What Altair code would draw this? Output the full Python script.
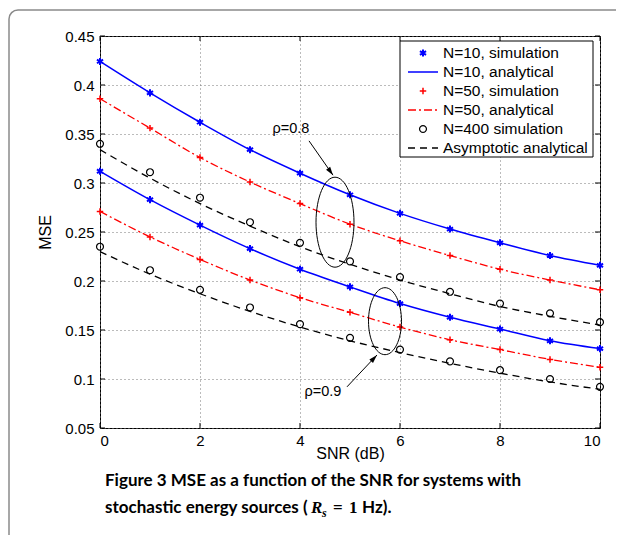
import math
import altair as alt
import pandas as pd

# ---------------- data ----------------
snr = [0, 1, 2, 3, 4, 5, 6, 7, 8, 9, 10]
n10_r08 = [0.424, 0.392, 0.362, 0.334, 0.310, 0.288, 0.269, 0.253, 0.239, 0.226, 0.216]
n50_r08 = [0.386, 0.356, 0.326, 0.301, 0.279, 0.258, 0.241, 0.226, 0.212, 0.201, 0.191]
n400_r08 = [0.340, 0.311, 0.285, 0.260, 0.239, 0.220, 0.204, 0.189, 0.177, 0.167, 0.158]
asym_r08 = [0.334, 0.305, 0.279, 0.256, 0.235, 0.217, 0.201, 0.187, 0.174, 0.164, 0.155]
n10_r09 = [0.312, 0.283, 0.257, 0.233, 0.212, 0.194, 0.177, 0.163, 0.151, 0.139, 0.131]
n50_r09 = [0.271, 0.245, 0.222, 0.201, 0.183, 0.168, 0.153, 0.140, 0.130, 0.120, 0.112]
n400_r09 = [0.235, 0.211, 0.191, 0.173, 0.156, 0.142, 0.130, 0.118, 0.109, 0.100, 0.092]
asym_r09 = [0.230, 0.207, 0.187, 0.169, 0.153, 0.139, 0.127, 0.116, 0.106, 0.097, 0.0895]

x_ticks = [0, 2, 4, 6, 8, 10]
y_ticks = [0.05, 0.1, 0.15, 0.2, 0.25, 0.3, 0.35, 0.4, 0.45]

legend_labels = ["N=10, simulation", "N=10, analytical", "N=50, simulation",
                 "N=50, analytical", "N=400 simulation", "Asymptotic analytical"]

# annotation anchors (data coords)
rho_labels = ["\u03c1=0.8", "\u03c1=0.9"]
rho_text_pos = [(3.82, 0.355), (4.46, 0.087)]
ellipse_center = [(4.7, 0.260), (5.7, 0.159)]
arrow_tail = [(4.18, 0.343), (4.94, 0.092)]
arrow_tip = [(4.66, 0.308), (5.54, 0.1245)]

# ---------------- layout ----------------
W, H = 500, 392
XDOM, YDOM = [0, 10], [0.05, 0.45]
BLUE, RED = "#0000ff", "#ff0000"
FONT = "Liberation Sans"

rows = []
for name, r08, r09 in [("N10", n10_r08, n10_r09), ("N50", n50_r08, n50_r09),
                       ("N400", n400_r08, n400_r09), ("ASY", asym_r08, asym_r09)]:
    for s, v in zip(snr, r08):
        rows.append({"snr": s, "mse": v, "series": name, "rho": "0.8"})
    for s, v in zip(snr, r09):
        rows.append({"snr": s, "mse": v, "series": name, "rho": "0.9"})
df = pd.DataFrame(rows)

xs = alt.Scale(domain=XDOM, nice=False, zero=False)
ys = alt.Scale(domain=YDOM, nice=False, zero=False)
X = alt.X("snr:Q", scale=xs,
          axis=alt.Axis(values=x_ticks, title="SNR (dB)", grid=True, ticks=False,
                        domain=False, labelPadding=5, titleY=25, titleBaseline="middle"))
Y = alt.Y("mse:Q", scale=ys,
          axis=alt.Axis(values=y_ticks, format=".2~f", title="MSE", grid=True,
                        ticks=False, domain=False, labelPadding=6, titleX=-55,
                        titleBaseline="middle"))

ASTER = "M0,-1L0,1M-0.87,-0.5L0.87,0.5M-0.87,0.5L0.87,-0.5"
PLUS = "M0,-1L0,1M-1,0L1,0"

base = alt.Chart(df)

def sel(name):
    return base.transform_filter(alt.datum.series == name)

blue_line = sel("N10").mark_line(color=BLUE, strokeWidth=1.5, interpolate="monotone").encode(
    x=X, y=Y, detail="rho:N")
blue_pts = sel("N10").mark_point(shape=ASTER, size=50, filled=False, color=BLUE,
                                 strokeWidth=2, opacity=1).encode(x=X, y=Y)
red_line = sel("N50").mark_line(color=RED, strokeWidth=1.3, strokeDash=[8, 3, 2, 3],
                                interpolate="monotone").encode(x=X, y=Y, detail="rho:N")
red_pts = sel("N50").mark_point(shape=PLUS, size=42, filled=False, color=RED,
                                strokeWidth=1.5, opacity=1).encode(x=X, y=Y)
blk_line = sel("ASY").mark_line(color="black", strokeWidth=1.3, strokeDash=[7, 5],
                                interpolate="monotone").encode(x=X, y=Y, detail="rho:N")
blk_pts = sel("N400").mark_point(shape="circle", size=48, filled=False, color="black",
                                 strokeWidth=1.2, opacity=1).encode(x=X, y=Y)

one = alt.Data(values=[{"a": 1}])

# inward ticks on all four sides
yt = pd.DataFrame({"mse": y_ticks})
xt = pd.DataFrame({"snr": x_ticks})
tick_layers = [
    alt.Chart(yt).mark_rule(color="black").encode(y=alt.Y("mse:Q", scale=ys), x=alt.value(0), x2=alt.value(5)),
    alt.Chart(yt).mark_rule(color="black").encode(y=alt.Y("mse:Q", scale=ys), x=alt.value(W - 5), x2=alt.value(W)),
    alt.Chart(xt).mark_rule(color="black").encode(x=alt.X("snr:Q", scale=xs), y=alt.value(H - 5), y2=alt.value(H)),
    alt.Chart(xt).mark_rule(color="black").encode(x=alt.X("snr:Q", scale=xs), y=alt.value(0), y2=alt.value(5)),
]

# annotations
ann_layers = []
def px(x):
    return (x - XDOM[0]) / (XDOM[1] - XDOM[0]) * W
def py(y):
    return (YDOM[1] - y) / (YDOM[1] - YDOM[0]) * H

ell_specs = [("M0,-1A0.422,1 0 1,1 0,1A0.422,1 0 1,1 0,-1Z", 8100),
             ("M0,-1A0.4925,1 0 1,1 0,1A0.4925,1 0 1,1 0,-1Z", 4489)]
HEAD = "M0,0L-0.5,1.7L0.5,1.7Z"
for i in range(2):
    tdf = pd.DataFrame({"snr": [rho_text_pos[i][0]], "mse": [rho_text_pos[i][1]], "t": [rho_labels[i]]})
    ann_layers.append(alt.Chart(tdf).mark_text(font=FONT, fontSize=14.5, color="black").encode(
        x=alt.X("snr:Q", scale=xs), y=alt.Y("mse:Q", scale=ys), text="t:N"))
    edf = pd.DataFrame({"snr": [ellipse_center[i][0]], "mse": [ellipse_center[i][1]]})
    ann_layers.append(alt.Chart(edf).mark_point(shape=ell_specs[i][0], size=ell_specs[i][1],
                                                 filled=False, color="black", strokeWidth=1,
                                                 opacity=1).encode(
        x=alt.X("snr:Q", scale=xs), y=alt.Y("mse:Q", scale=ys)))
    adf = pd.DataFrame({"snr": [arrow_tail[i][0]], "mse": [arrow_tail[i][1]],
                        "snr2": [arrow_tip[i][0]], "mse2": [arrow_tip[i][1]]})
    ann_layers.append(alt.Chart(adf).mark_rule(color="black", strokeWidth=1).encode(
        x=alt.X("snr:Q", scale=xs), y=alt.Y("mse:Q", scale=ys), x2="snr2:Q", y2="mse2:Q"))
    dx = px(arrow_tip[i][0]) - px(arrow_tail[i][0])
    dy = py(arrow_tip[i][1]) - py(arrow_tail[i][1])
    ang = math.degrees(math.atan2(dx, -dy)) % 360
    hdf = pd.DataFrame({"snr": [arrow_tip[i][0]], "mse": [arrow_tip[i][1]]})
    ann_layers.append(alt.Chart(hdf).mark_point(shape=HEAD, size=100, filled=True, color="black",
                                                 strokeWidth=0, angle=ang, opacity=1).encode(
        x=alt.X("snr:Q", scale=xs), y=alt.Y("mse:Q", scale=ys)))

# manual legend
LX0, LX1, LY0, LY1 = 300, 493, 5, 121
leg = [alt.Chart(one).mark_rect(fill="white", stroke="black", strokeWidth=1).encode(
    x=alt.value(LX0), x2=alt.value(LX1), y=alt.value(LY0), y2=alt.value(LY1))]
row_y = [17, 36, 55, 74, 93, 112]
for lab, yy in zip(legend_labels, row_y):
    leg.append(alt.Chart(one).mark_text(font=FONT, fontSize=15.5, align="left", baseline="middle",
                                        color="black", text=lab).encode(
        x=alt.value(343), y=alt.value(yy)))
leg.append(alt.Chart(one).mark_point(shape=ASTER, size=50, filled=False, color=BLUE, strokeWidth=2,
                                     opacity=1).encode(x=alt.value(323), y=alt.value(row_y[0])))
leg.append(alt.Chart(one).mark_rule(color=BLUE, strokeWidth=1.5).encode(
    x=alt.value(308), x2=alt.value(338), y=alt.value(row_y[1])))
leg.append(alt.Chart(one).mark_point(shape=PLUS, size=42, filled=False, color=RED, strokeWidth=1.5,
                                     opacity=1).encode(x=alt.value(323), y=alt.value(row_y[2])))
leg.append(alt.Chart(one).mark_rule(color=RED, strokeWidth=1.3, strokeDash=[8, 3, 2, 3]).encode(
    x=alt.value(308), x2=alt.value(338), y=alt.value(row_y[3])))
leg.append(alt.Chart(one).mark_point(shape="circle", size=48, filled=False, color="black",
                                     strokeWidth=1.2, opacity=1).encode(
    x=alt.value(323), y=alt.value(row_y[4])))
leg.append(alt.Chart(one).mark_rule(color="black", strokeWidth=1.3, strokeDash=[7, 5]).encode(
    x=alt.value(308), x2=alt.value(338), y=alt.value(row_y[5])))

# figure frame and caption
frame = alt.Chart(one).mark_rect(fill=None, stroke="#8a8a8a", strokeWidth=1.5, cornerRadius=9).encode(
    x=alt.value(-91), x2=alt.value(640), y=alt.value(-26), y2=alt.value(640))

CAP = "Lato"
CS = 17
SERIF = "Liberation Serif"

def ctext(txt, x, y, font=CAP, size=CS, style="normal"):
    return alt.Chart(one).mark_text(font=font, fontSize=size, fontWeight="bold", fontStyle=style,
                                    align="left", baseline="middle", text=txt, color="black").encode(
        x=alt.value(x), y=alt.value(y))

cap = [
    ctext("Figure 3 MSE as a function of the SNR for systems with", 5, 445),
    ctext("stochastic energy sources (", 5, 472),
    ctext("R", 211, 472, SERIF, CS, "italic"),
    ctext("s", 222, 477, SERIF, 12, "italic"),
    ctext("=", 233, 472, SERIF, CS),
    ctext("1", 249, 472, SERIF, CS),
    ctext("Hz).", 262, 472),
]

chart = alt.layer(
    frame, *tick_layers, blk_line, red_line, blue_line, blk_pts, red_pts, blue_pts,
    *ann_layers, *leg, *cap
).properties(
    width=W, height=H,
    autosize=alt.AutoSizeParams(type="none"),
    padding={"left": 92, "top": 28, "right": 16, "bottom": 107},
    background="white",
).configure_view(
    stroke="black", strokeWidth=1
).configure_axis(
    labelFont=FONT, labelFontSize=15, labelColor="black", titleFont=FONT, titleFontSize=16,
    titleFontWeight="normal", titleColor="black", gridColor="#777777", gridDash=[1, 3],
    gridOpacity=1, gridWidth=1
)

chart.save("out.html", embed_options={"renderer": "svg", "actions": False})
